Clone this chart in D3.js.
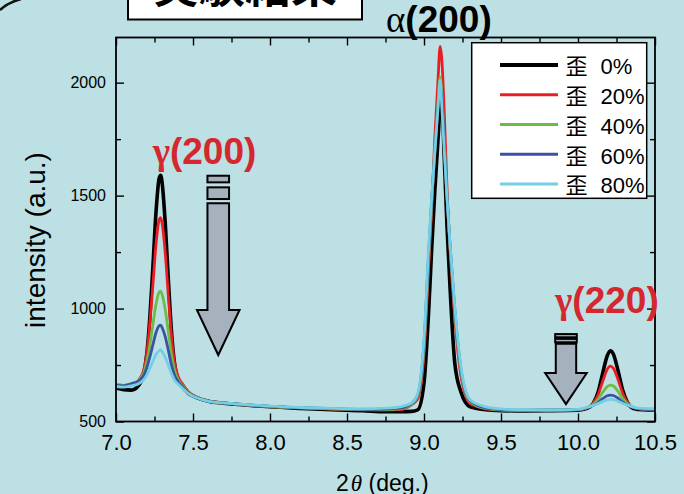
<!DOCTYPE html>
<html>
<head>
<meta charset="utf-8">
<script src="https://cdn.jsdelivr.net/npm/d3@7"></script>
<style>
  html, body { margin: 0; padding: 0; background: #bde0e4; }
  svg { display: block; }
</style>
</head>
<body>
<svg id="chart" width="684" height="494"></svg>
<script>
// Diffraction angle 2θ (deg.) shared by every profile
const twoTheta = [
  7.00, 7.05, 7.10, 7.15, 7.18, 7.20, 7.22, 7.24, 7.26, 7.28, 7.29, 7.30, 7.32, 7.34, 7.36, 7.38, 7.40, 7.43, 7.47, 7.52, 7.60,
  7.70, 7.80, 8.00, 8.20, 8.40, 8.60, 8.75, 8.85,
  8.92, 8.96, 9.00, 9.03, 9.05, 9.07, 9.09, 9.105, 9.115, 9.13, 9.15, 9.17, 9.20, 9.24, 9.30,
  9.40, 9.50, 9.60, 9.80, 10.00,
  10.06, 10.10, 10.13, 10.16, 10.19, 10.21, 10.23, 10.26, 10.29, 10.32, 10.36, 10.42, 10.50
];

// Intensity (a.u.) for each strain level
const strain0 = [
  648, 641, 639, 662, 710, 800, 963, 1191, 1429, 1576, 1590, 1554, 1376, 1127, 901, 758, 690, 655, 625, 607, 590,
  581, 575, 565, 558, 552, 548, 543, 543,
  545, 552, 670, 985, 1265, 1518, 1737, 1900, 1955, 1696, 1355, 1080, 758, 630, 565,
  552, 548, 547, 548, 550,
  558, 581, 629, 713, 791, 813, 798, 725, 639, 586, 558, 552, 551
];
const strain20 = [
  662, 660, 662, 686, 728, 804, 936, 1109, 1286, 1393, 1403, 1375, 1244, 1056, 879, 761, 705, 668, 632, 610, 591,
  582, 576, 566, 560, 555, 552, 551, 553,
  575, 600, 800, 1180, 1440, 1750, 2000, 2161, 2110, 1900, 1520, 1250, 960, 700, 580,
  556, 550, 548, 548, 552,
  560, 581, 618, 677, 731, 745, 735, 686, 625, 585, 561, 554, 552
];
const strain40 = [
  662, 660, 668, 684, 715, 764, 839, 931, 1020, 1072, 1077, 1061, 994, 896, 798, 728, 690, 660, 628, 608, 590,
  582, 576, 566, 560, 556, 553, 553, 557,
  578, 612, 830, 1220, 1470, 1700, 1900, 2025, 1960, 1760, 1490, 1265, 985, 720, 588,
  558, 552, 549, 549, 553,
  561, 577, 598, 629, 654, 661, 657, 633, 602, 580, 562, 555, 553
];
const strain60 = [
  660, 658, 667, 680, 704, 738, 786, 841, 894, 924, 927, 915, 875, 814, 751, 705, 680, 655, 626, 607, 589,
  582, 576, 567, 561, 557, 554, 555, 560,
  580, 618, 845, 1240, 1480, 1690, 1880, 1989, 1940, 1750, 1485, 1270, 995, 730, 592,
  560, 553, 550, 550, 553,
  561, 572, 584, 601, 614, 617, 615, 603, 586, 573, 561, 555, 554
];
const strain80 = [
  655, 652, 658, 668, 685, 706, 736, 767, 797, 813, 818, 809, 784, 749, 712, 683, 668, 648, 623, 606, 589,
  582, 577, 568, 562, 558, 556, 559, 566,
  582, 625, 863, 1266, 1496, 1689, 1881, 2011, 1900, 1720, 1483, 1279, 1008, 740, 595,
  565, 556, 552, 551, 554,
  563, 572, 579, 589, 596, 598, 597, 590, 580, 573, 564, 558, 557
];

const seriesNames = ["0%", "20%", "40%", "60%", "80%"];
const seriesColors = ["#000000", "#ec1c24", "#6cbd45", "#3a52a3", "#72cfe4"];
const seriesWidths = [3.6, 2.8, 2.8, 2.8, 2.8];

const xTicks = [7.0, 7.5, 8.0, 8.5, 9.0, 9.5, 10.0, 10.5];
const xMinorTicks = [7.25, 7.75, 8.25, 8.75, 9.25, 9.75, 10.25];
const yTicks = [500, 1000, 1500, 2000];
const yMinorTicks = [750, 1250, 1750];

// Peak labels (baseline start, in data units)
const peakLabels = [
  { greek: "α", text: "(200)", x: 8.753, y: 2224, color: "#000000", greekWeight: "normal" },
  { greek: "γ", text: "(200)", x: 7.238, y: 1640, color: "#d4272e", greekWeight: "bold" },
  { greek: "γ", text: "(220)", x: 9.851, y: 980, color: "#d4272e", greekWeight: "bold" }
];

const svg = d3.select("#chart");
const W = 684, H = 494;
const plot = { left: 116, right: 655, top: 37.5, bottom: 421.5 };

const x = d3.scaleLinear().domain([7.0, 10.5]).range([plot.left, plot.right]);
const y = d3.scaleLinear().domain([500, 2200]).range([plot.bottom, plot.top]);

const sans = "'Liberation Sans', Arial, 'Noto Sans CJK JP', sans-serif";
const serif = "'Liberation Serif', 'Times New Roman', serif";

svg.append("rect").attr("width", W).attr("height", H).attr("fill", "#bde0e4");

// Decorative corner stroke of the slide
svg.append("path")
  .attr("d", "M0,10 Q8,2.5 21,-1")
  .attr("fill", "none").attr("stroke", "#111").attr("stroke-width", 2.6);

// Title box
svg.append("rect")
  .attr("x", 128).attr("y", -12).attr("width", 234).attr("height", 31.5)
  .attr("fill", "#ffffff").attr("stroke", "#000").attr("stroke-width", 2);
svg.append("text")
  .attr("x", 245).attr("y", 2)
  .attr("text-anchor", "middle")
  .attr("font-family", "'Noto Sans CJK JP', sans-serif")
  .attr("font-weight", "bold").attr("font-size", 46)
  .attr("fill", "#000").text("実験結果");

// Axes: ticks point inward on all four sides
function styleAxis(g) {
  g.select(".domain").remove();
  g.selectAll(".tick line").attr("stroke", "#000").attr("stroke-width", 1.4);
  g.selectAll(".tick text").attr("fill", "#000").attr("font-family", sans);
}

const gx = svg.append("g").attr("transform", `translate(0,${plot.bottom})`)
  .call(d3.axisBottom(x).tickValues(xTicks).tickSize(-8).tickSizeOuter(0).tickPadding(13)
    .tickFormat(d3.format(".1f")));
styleAxis(gx);
gx.selectAll(".tick text").attr("font-size", 22);

svg.append("g").attr("transform", `translate(0,${plot.bottom})`)
  .call(d3.axisBottom(x).tickValues(xMinorTicks).tickSize(-5).tickSizeOuter(0).tickFormat(""))
  .call(styleAxis);

svg.append("g").attr("transform", `translate(0,${plot.top})`)
  .call(d3.axisTop(x).tickValues(xTicks).tickSize(-8).tickSizeOuter(0).tickFormat(""))
  .call(styleAxis);
svg.append("g").attr("transform", `translate(0,${plot.top})`)
  .call(d3.axisTop(x).tickValues(xMinorTicks).tickSize(-5).tickSizeOuter(0).tickFormat(""))
  .call(styleAxis);

const gy = svg.append("g").attr("transform", `translate(${plot.left},0)`)
  .call(d3.axisLeft(y).tickValues(yTicks).tickSize(-8).tickSizeOuter(0).tickPadding(10)
    .tickFormat(d3.format("d")));
styleAxis(gy);
gy.selectAll(".tick text").attr("font-size", 16);

svg.append("g").attr("transform", `translate(${plot.left},0)`)
  .call(d3.axisLeft(y).tickValues(yMinorTicks).tickSize(-5).tickSizeOuter(0).tickFormat(""))
  .call(styleAxis);
svg.append("g").attr("transform", `translate(${plot.right},0)`)
  .call(d3.axisRight(y).tickValues(yTicks).tickSize(-8).tickSizeOuter(0).tickFormat(""))
  .call(styleAxis);
svg.append("g").attr("transform", `translate(${plot.right},0)`)
  .call(d3.axisRight(y).tickValues(yMinorTicks).tickSize(-5).tickSizeOuter(0).tickFormat(""))
  .call(styleAxis);

// Profiles
const profiles = [strain0, strain20, strain40, strain60, strain80];
const line = d3.line()
  .x((d, i) => x(twoTheta[i]))
  .y(d => y(d))
  .curve(d3.curveMonotoneX);

const gLines = svg.append("g");
profiles.forEach((vals, k) => {
  gLines.append("path")
    .datum(vals)
    .attr("d", line)
    .attr("fill", "none")
    .attr("stroke", seriesColors[k])
    .attr("stroke-width", seriesWidths[k])
    .attr("stroke-linejoin", "round");
});

// Plot frame
svg.append("rect")
  .attr("x", plot.left).attr("y", plot.top)
  .attr("width", plot.right - plot.left).attr("height", plot.bottom - plot.top)
  .attr("fill", "none").attr("stroke", "#000").attr("stroke-width", 1.8);

// Downward arrows showing the drop of the γ peaks with strain
function drawArrow(cx, top, parts) {
  const g = svg.append("g")
    .attr("fill", "#a6b1be").attr("stroke", "#000").attr("stroke-width", 2)
    .attr("stroke-linejoin", "miter");
  parts.bars.forEach(b => {
    g.append("rect")
      .attr("x", cx - parts.half).attr("y", top + b[0])
      .attr("width", parts.half * 2).attr("height", b[1] - b[0]);
  });
  const s0 = top + parts.shaft[0], s1 = top + parts.shaft[1], tip = top + parts.tip;
  const pts = [
    [cx - parts.shaftHalf, s0], [cx + parts.shaftHalf, s0], [cx + parts.shaftHalf, s1],
    [cx + parts.head, s1], [cx, tip], [cx - parts.head, s1], [cx - parts.shaftHalf, s1]
  ];
  g.append("path").attr("d", "M" + pts.map(p => p.join(",")).join("L") + "Z");
}

drawArrow(x(7.664), y(1588), {
  half: 10.8, shaftHalf: 10.8, head: 21.3,
  bars: [[0, 6.6], [11.6, 23.3]],
  shaft: [27.6, 134.3], tip: 179.3
});
drawArrow(x(9.922), y(887), {
  half: 10.8, shaftHalf: 10.2, head: 20.8,
  bars: [[0, 3.2], [4.8, 8.2]],
  shaft: [9.6, 39], tip: 70
});

// Peak labels
peakLabels.forEach(p => {
  const t = svg.append("text")
    .attr("x", x(p.x)).attr("y", y(p.y))
    .attr("font-size", 37).attr("fill", p.color);
  t.append("tspan").attr("font-family", serif).attr("font-weight", p.greekWeight).text(p.greek);
  t.append("tspan").attr("font-family", sans).attr("font-weight", "bold").text(p.text);
});

// Legend
const legend = svg.append("g");
legend.append("rect")
  .attr("x", 471.7).attr("y", 42.7).attr("width", 175).attr("height", 155.6)
  .attr("fill", "#ffffff").attr("stroke", "#000").attr("stroke-width", 1.5);
seriesNames.forEach((name, k) => {
  const ry = 65 + k * 29.75;
  legend.append("line")
    .attr("x1", 500).attr("x2", 558).attr("y1", ry).attr("y2", ry)
    .attr("stroke", seriesColors[k]).attr("stroke-width", k === 0 ? 4 : 2.8);
  const t = legend.append("text")
    .attr("x", 565.5).attr("y", ry + 9.3)
    .attr("font-family", sans).attr("font-size", 22).attr("fill", "#000");
  t.append("tspan").attr("font-family", "'Noto Sans CJK JP', sans-serif").text("歪");
  t.append("tspan").attr("dx", 13).text(name);
});

// Axis titles
svg.append("text")
  .attr("transform", "translate(45,240) rotate(-90)")
  .attr("text-anchor", "middle")
  .attr("font-family", sans).attr("font-size", 28).attr("fill", "#000")
  .text("intensity (a.u.)");

const xt = svg.append("text")
  .attr("x", 336).attr("y", 491)
  .attr("font-family", sans).attr("font-size", 23).attr("fill", "#000");
xt.append("tspan").text("2");
xt.append("tspan").attr("dx", 2).attr("font-family", serif).attr("font-style", "italic").text("θ");
xt.append("tspan").text(" (deg.)");
</script>
</body>
</html>
